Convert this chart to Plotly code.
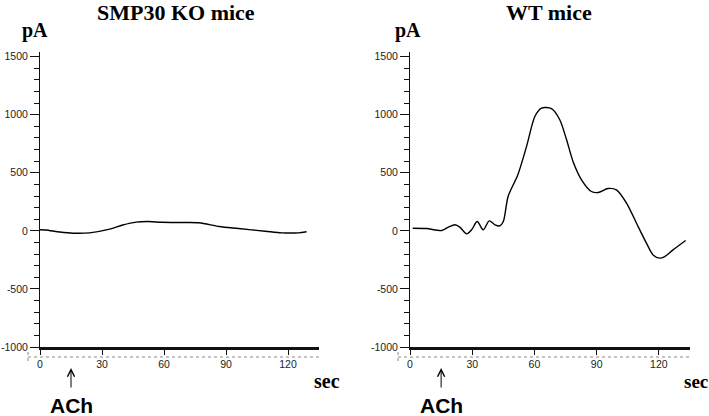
import plotly.graph_objects as go

# ---------------- data ----------------
ko_time = [0, 2.7, 9.6, 16, 24, 33.7, 40, 46.5, 52, 59, 68, 77, 86.7, 96, 109, 117, 125, 129]
ko_current = [10, 8, -10, -20, -17, 15, 50, 75, 80, 74, 72, 70, 37, 20, -3, -17, -17, -8]

wt_time = [1.3, 8, 15.3, 18.5, 21.7, 24, 27.3, 29.7, 32.4, 35.3, 38.2, 41, 43.3, 45, 47.3, 52,
           56.2, 60.2, 63.4, 68.2, 72.2, 75.5, 78.6, 82.7, 87.5, 90.7, 95.5, 99.5, 104.4,
           109.2, 114, 117.2, 120.4, 122.8, 126.8, 132.9]
wt_current = [23, 20, 3, 32, 52, 32, -26, 9, 80, 9, 86, 52, 43, 80, 296, 483,
              727, 985, 1057, 1052, 957, 784, 598, 440, 339, 330, 365, 353, 239,
              66, -106, -207, -235, -221, -164, -83]

x_ticks = [0, 30, 60, 90, 120]
x_ticktext = ["0", "30", "60", "90", "120"]
y_ticks = [-1000, -500, 0, 500, 1000, 1500]
y_ticktext = ["-1000", "-500", "0", "500", "1000", "1500"]
ach_time = 15
titles = ["SMP30 KO mice", "WT mice"]

# ---------------- layout helpers ----------------
W, H = 709, 416


def px(x):
    return x / W


def py(y):
    return 1 - y / H


fig = go.Figure()
fig.add_trace(go.Scatter(x=ko_time, y=ko_current, mode="lines", line=dict(color="black", width=1.4, shape="spline", smoothing=0.8),
                         xaxis="x", yaxis="y", showlegend=False))
fig.add_trace(go.Scatter(x=wt_time, y=wt_current, mode="lines", line=dict(color="black", width=1.4, shape="spline", smoothing=0.8),
                         xaxis="x2", yaxis="y2", showlegend=False))

tickfont = dict(family="Arial, Liberation Sans, sans-serif", size=10.5, color="#222")

xcommon = dict(range=[0, 135], showline=True, linewidth=3, linecolor="#111", ticks="outside", ticklen=5,
               tickwidth=1, tickcolor="#111", tickvals=x_ticks, ticktext=x_ticktext, tickfont=tickfont,
               showgrid=False, zeroline=False, fixedrange=True, automargin=False)
ycommon = dict(range=[-1000, 1540], showline=True, linewidth=1, linecolor="#111", ticks="outside", ticklen=9,
               tickwidth=1, tickcolor="#111", tickvals=y_ticks, ticktext=y_ticktext, tickfont=tickfont,
               showgrid=False, zeroline=False, fixedrange=True, automargin=False,
               minor=dict(dtick=100, tick0=0, ticks="outside", ticklen=5, tickwidth=1, tickcolor="#111"))

y_dom = [py(347), py(52)]
fig.update_layout(
    width=W, height=H, margin=dict(l=0, r=0, t=0, b=0, autoexpand=False),
    paper_bgcolor="white", plot_bgcolor="white",
    xaxis=dict(domain=[px(40), px(319)], anchor="y", **xcommon),
    yaxis=dict(domain=y_dom, anchor="x", **ycommon),
    xaxis2=dict(domain=[px(410), px(690)], anchor="y2", **xcommon),
    yaxis2=dict(domain=y_dom, anchor="x2", **ycommon),
)

serif_b = dict(family="Liberation Serif, Times New Roman, serif", color="black")
annotations = []
for i, (cx, pa_x, sec_x, sec_size, xr) in enumerate([(176, 35, 312, 20, "x"), (549, 408, 682, 19, "x2")]):
    annotations.append(dict(text="<b>%s</b>" % titles[i], x=px(cx), y=py(12.5), xref="paper", yref="paper",
                            xanchor="center", yanchor="middle", showarrow=False, font=dict(size=22, **serif_b)))
    annotations.append(dict(text="<b>pA</b>", x=px(pa_x), y=py(31), xref="paper", yref="paper",
                            xanchor="center", yanchor="middle", showarrow=False, font=dict(size=20, **serif_b)))
    annotations.append(dict(text="<b>sec</b>", x=px(sec_x), y=py(381), xref="paper", yref="paper",
                            xanchor="left", yanchor="middle", showarrow=False, font=dict(size=sec_size, **serif_b)))
    annotations.append(dict(text="<b>ACh</b>", x=ach_time, xref=xr, y=py(405), yref="paper",
                            xanchor="center", yanchor="middle", showarrow=False,
                            font=dict(size=21, family="Arial, Liberation Sans, sans-serif", color="black")))
    annotations.append(dict(text="", x=ach_time, xref=xr, y=py(368), yref="paper", ax=0, ay=21,
                            showarrow=True, arrowhead=5, arrowsize=1.4, arrowwidth=1, arrowcolor="black"))
fig.update_layout(annotations=annotations)

shapes = []
for x0, x1 in [(28, 319), (398, 690)]:
    shapes.append(dict(type="line", xref="paper", yref="paper", x0=px(x0), x1=px(x1), y0=py(357), y1=py(357),
                       line=dict(color="#888", width=1, dash="dot")))
    shapes.append(dict(type="line", xref="paper", yref="paper", x0=px(x0), x1=px(x0), y0=py(352), y1=py(363),
                       line=dict(color="#888", width=1, dash="dot")))
fig.update_layout(shapes=shapes)

fig.write_html("out.html", config={"displayModeBar": False},
               post_script="document.body.style.margin='0';document.body.style.overflow='hidden';")
